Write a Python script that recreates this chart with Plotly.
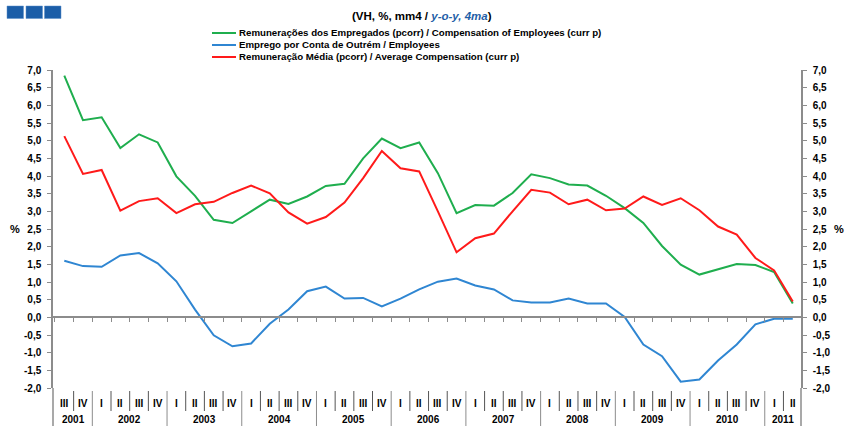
import plotly.graph_objects as go

# ---------------- data ----------------
quarters = ["III", "IV",
            "I", "II", "III", "IV", "I", "II", "III", "IV", "I", "II", "III", "IV",
            "I", "II", "III", "IV", "I", "II", "III", "IV", "I", "II", "III", "IV",
            "I", "II", "III", "IV", "I", "II", "III", "IV", "I", "II", "III", "IV",
            "I", "II"]
years = ["2001", "2001",
         "2002", "2002", "2002", "2002", "2003", "2003", "2003", "2003",
         "2004", "2004", "2004", "2004", "2005", "2005", "2005", "2005",
         "2006", "2006", "2006", "2006", "2007", "2007", "2007", "2007",
         "2008", "2008", "2008", "2008", "2009", "2009", "2009", "2009",
         "2010", "2010", "2010", "2010", "2011", "2011"]

compensation = [6.84, 5.58, 5.66, 4.79, 5.18, 4.95, 3.99, 3.44, 2.76, 2.67,
                3.00, 3.33, 3.21, 3.42, 3.72, 3.78, 4.50, 5.06, 4.79, 4.95,
                4.08, 2.95, 3.18, 3.16, 3.52, 4.05, 3.94, 3.76, 3.73, 3.44,
                3.09, 2.67, 2.02, 1.49, 1.21, 1.37, 1.51, 1.48, 1.28, 0.39]
employees = [1.60, 1.45, 1.43, 1.75, 1.82, 1.53, 1.02, 0.22, -0.51, -0.82,
             -0.74, -0.18, 0.22, 0.74, 0.87, 0.53, 0.55, 0.31, 0.53, 0.79,
             1.01, 1.10, 0.90, 0.79, 0.48, 0.42, 0.42, 0.53, 0.39, 0.39,
             0.01, -0.77, -1.10, -1.82, -1.76, -1.22, -0.77, -0.20, -0.04, -0.04]
avg_compensation = [5.13, 4.06, 4.17, 3.02, 3.29, 3.37, 2.95, 3.20, 3.27, 3.52,
                    3.73, 3.51, 2.97, 2.65, 2.84, 3.25, 3.94, 4.71, 4.22, 4.13,
                    3.00, 1.84, 2.24, 2.37, 3.00, 3.61, 3.53, 3.20, 3.33, 3.03,
                    3.08, 3.42, 3.18, 3.37, 3.03, 2.57, 2.34, 1.68, 1.33, 0.45]

series_names = ["Remunerações dos Empregados (pcorr) / Compensation of Employees (curr p)",
                "Emprego por Conta de Outrém / Employees",
                "Remuneração Média (pcorr) / Average Compensation (curr p)"]
series_colors = ["#1fae4e", "#2f86d2", "#ff1a1a"]

y_ticks = [-2.0, -1.5, -1.0, -0.5, 0.0, 0.5, 1.0, 1.5, 2.0, 2.5,
           3.0, 3.5, 4.0, 4.5, 5.0, 5.5, 6.0, 6.5, 7.0]

# ---------------- layout helpers ----------------
W, H = 845, 426
L, R, T, B = 53, 44, 70, 38
PW, PH = W - L - R, H - T - B


def px_x(px):
    return (px - L) / PW


def px_y(py):
    return (H - B - py) / PH


SMALL = "Liberation Sans, Arial, sans-serif"
ARIAL = "Liberation Sans, Arial, sans-serif"
AXIS_GREY = "#8c8c8c"

n = len(quarters)
xs = list(range(n))

fig = go.Figure()
for vals, name, col in zip([compensation, employees, avg_compensation], series_names, series_colors):
    fig.add_trace(go.Scatter(x=xs, y=vals, mode="lines", name=name,
                             line=dict(color=col, width=2), showlegend=False,
                             hoverinfo="skip"))
# invisible trace for the right-hand axis
fig.add_trace(go.Scatter(x=xs, y=employees, yaxis="y2", mode="lines",
                         line=dict(width=0, color="rgba(0,0,0,0)"),
                         showlegend=False, hoverinfo="skip"))

tick_text = [f"{v:.1f}".replace(".", ",") for v in y_ticks]

fig.update_layout(
    width=W, height=H,
    margin=dict(l=L, r=R, t=T, b=B, pad=0),
    paper_bgcolor="white", plot_bgcolor="white",
    xaxis=dict(range=[-0.605, 39.44], showgrid=False, zeroline=False,
               anchor="free", position=2 / 9,
               showline=True, linecolor=AXIS_GREY, linewidth=1.5,
               tickvals=[i + 0.5 for i in range(-1, n)], ticktext=[""] * (n + 1),
               ticks="outside", ticklen=4, tickcolor=AXIS_GREY, tickwidth=1,
               showticklabels=False),
    yaxis=dict(range=[-2, 7], showgrid=False, zeroline=False,
               showline=True, linecolor=AXIS_GREY, linewidth=1.5,
               tickvals=y_ticks, ticktext=tick_text,
               ticks="outside", ticklen=4, tickcolor=AXIS_GREY,
               ticklabelstandoff=4,
               tickfont=dict(family=ARIAL, size=10, color="black", weight="bold")),
    yaxis2=dict(range=[-2, 7], overlaying="y", side="right", anchor="x",
                showgrid=False, zeroline=False,
                showline=True, linecolor=AXIS_GREY, linewidth=1.5,
                tickvals=y_ticks, ticktext=tick_text,
                ticks="outside", ticklen=4, tickcolor=AXIS_GREY,
                ticklabelstandoff=4,
                tickfont=dict(family=ARIAL, size=10, color="black", weight="bold")),
)

shapes = []
annotations = []

# category separators and labels below the plot
for i in range(n):
    annotations.append(dict(x=i, y=px_y(403), xref="x", yref="paper",
                            text=quarters[i], showarrow=False,
                            font=dict(family=ARIAL, size=10, color="black", weight="bold"),
                            xanchor="center", yanchor="middle"))
    if i > 0:
        new_year = years[i] != years[i - 1]
        shapes.append(dict(type="line", xref="x", yref="paper",
                           x0=i - 0.5, x1=i - 0.5,
                           y0=px_y(391), y1=px_y(426 if new_year else 411),
                           line=dict(color=AXIS_GREY if new_year else "#555555", width=1)))

for side in (0, 1):
    shapes.append(dict(type="line", xref="paper", yref="paper", x0=side, x1=side,
                       y0=0, y1=px_y(426), line=dict(color=AXIS_GREY, width=1.5)))

year_order = []
for y in years:
    if y not in year_order:
        year_order.append(y)
for y in year_order:
    idx = [i for i, v in enumerate(years) if v == y]
    annotations.append(dict(x=sum(idx) / len(idx), y=px_y(419), xref="x", yref="paper",
                            text=y, showarrow=False,
                            font=dict(family=ARIAL, size=10, color="black", weight="bold"),
                            xanchor="center", yanchor="middle"))

# % labels
annotations.append(dict(x=px_x(15), y=px_y(229), xref="paper", yref="paper", text="%",
                        showarrow=False, font=dict(family=ARIAL, size=11, color="black", weight="bold"),
                        xanchor="center", yanchor="middle"))
annotations.append(dict(x=px_x(839), y=px_y(229), xref="paper", yref="paper", text="%",
                        showarrow=False, font=dict(family=ARIAL, size=11, color="black", weight="bold"),
                        xanchor="center", yanchor="middle"))

# subtitle
annotations.append(dict(x=px_x(422), y=px_y(16), xref="paper", yref="paper",
                        text="(VH, %, mm4 / <i><span style='color:#1f5fa8'>y-o-y, 4ma</span></i>)",
                        showarrow=False,
                        font=dict(family=SMALL, size=11.5, color="black", weight="bold"),
                        xanchor="center", yanchor="middle"))

# legend (manual, compact)
for k, (name, col) in enumerate(zip(series_names, series_colors)):
    ly = [33, 45, 57][k]
    shapes.append(dict(type="line", xref="paper", yref="paper",
                       x0=px_x(212), x1=px_x(236), y0=px_y(ly), y1=px_y(ly),
                       line=dict(color=col, width=2)))
    annotations.append(dict(x=px_x(237), y=px_y(ly), xref="paper", yref="paper",
                            text=name, showarrow=False,
                            font=dict(family=SMALL, size=9.7, color="black", weight="bold"),
                            xanchor="left", yanchor="middle"))

# decorative blue squares at top left
for x0 in (7, 26, 44.5):
    shapes.append(dict(type="rect", xref="paper", yref="paper",
                       x0=px_x(x0), x1=px_x(x0 + 16.5), y0=px_y(18.5), y1=px_y(6),
                       line=dict(color="#5b8fc9", width=0.5), fillcolor="#1b5ea8"))

fig.update_layout(shapes=shapes, annotations=annotations)
fig.write_html("out.html", config={"displayModeBar": False},
               post_script="document.body.style.margin='0px';")
